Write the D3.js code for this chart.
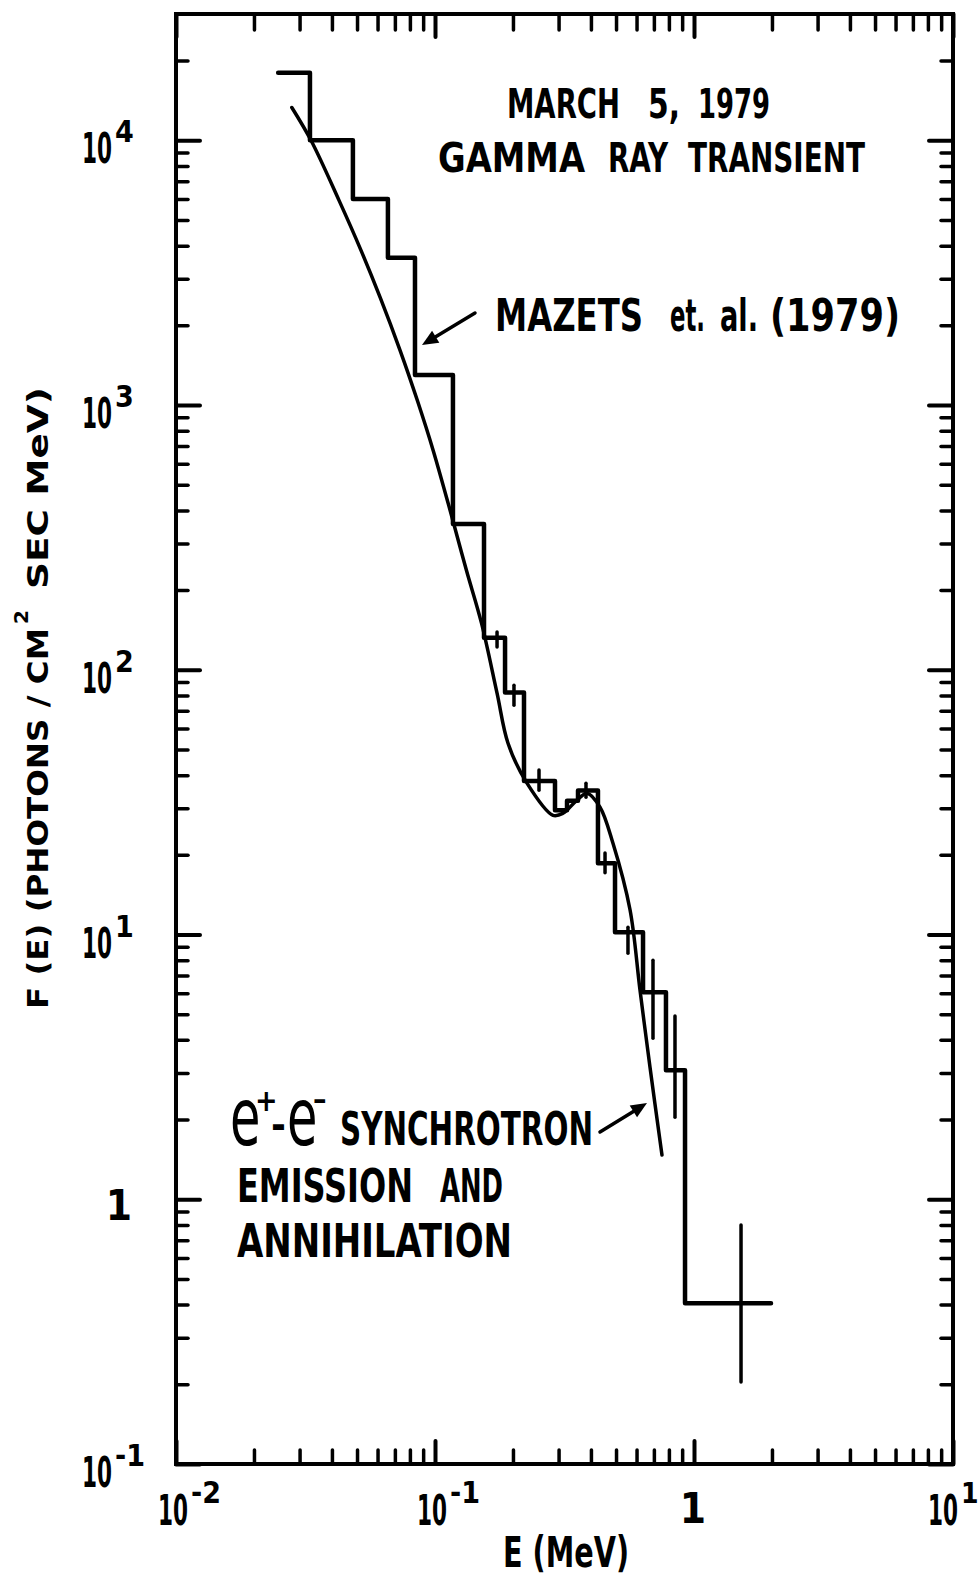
<!DOCTYPE html>
<html><head><meta charset="utf-8">
<script src="https://cdn.jsdelivr.net/npm/d3@7"></script>
<style>
html,body{margin:0;padding:0;background:#fff;}
svg{display:block;}
text{font-family:"Liberation Sans Narrow","DejaVu Sans Condensed","Roboto Condensed","Liberation Sans",sans-serif;font-weight:bold;fill:#000;}
text.wide{font-family:"DejaVu Sans","Liberation Sans",sans-serif;}
text.thin{font-weight:normal;}
</style></head><body>
<svg id="c" width="980" height="1578"></svg>
<script>
// ---- data ----
// Mazets et al. (1979) histogram: bin edges in MeV and flux per bin
const binEdges = [0.0248, 0.0329, 0.0482, 0.0658, 0.0837, 0.1173, 0.1546, 0.1864, 0.2206, 0.2906, 0.3234, 0.3566, 0.4258, 0.4955, 0.6356, 0.7794, 0.9233, 1.983];
const binFlux  = [18000, 10000, 6000, 3600, 1300, 355, 132, 82, 38, 29.5, 32, 35, 18.6, 10.2, 6.05, 3.07, 0.405];
// error bars
const errEnergy = [0.1736, 0.2018, 0.2521, 0.3828, 0.4534, 0.556, 0.6945, 0.8445, 1.519];
const errLow    = [122, 73.5, 35.1, 33.0, 17.1, 8.5, 4.06, 2.04, 0.204];
const errHigh   = [139, 87.5, 41.8, 37.3, 20.3, 10.66, 8.0, 4.92, 0.80];
// e+e- synchrotron emission and annihilation model curve
const modelEnergy = [0.0280, 0.0332, 0.0426, 0.0518, 0.0614, 0.0733, 0.0855, 0.0984, 0.1163, 0.1323, 0.1512, 0.1736, 0.1914, 0.2265, 0.2855, 0.312, 0.3535, 0.3863, 0.4336, 0.4866, 0.5662, 0.6187, 0.6761, 0.7522];
const modelFlux   = [13300, 10000, 5930, 3840, 2550, 1610, 1040, 674, 377, 237, 150, 81.6, 52.8, 37.3, 28.2, 28.7, 32.2, 34.2, 30.3, 22.1, 12.4, 6.17, 3.16, 1.47];
// ticks
const xMajor = [0.01, 0.1, 1, 10];
const xTickBase = ["10", "10", "1", "10"];
const xTickExp  = ["-2", "-1", "", "1"];
const yMajor = [0.1, 1, 10, 100, 1000, 10000];
const yTickBase = ["10", "1", "10", "10", "10", "10"];
const yTickExp  = ["-1", "", "1", "2", "3", "4"];

// ---- layout ----
const L = 176, R = 953, T = 14, B = 1464;
const svg = d3.select("#c");
const x = d3.scaleLog().domain([0.01, 10]).range([L, R]);
const y = d3.scaleLog().domain([0.1, 3e4]).range([B, T]);

function minorOf(domain) {
  const out = [];
  for (let p = Math.floor(Math.log10(domain[0])); p < Math.ceil(Math.log10(domain[1])); p++) {
    for (let m = 2; m <= 9; m++) {
      const v = m * Math.pow(10, p);
      if (v > domain[0] && v < domain[1] * 0.97) out.push(v);
    }
  }
  return out;
}
const xMinor = minorOf(x.domain());
const yMinor = minorOf(y.domain());

function axis(gen, scale, tr, vals, len, sw) {
  const g = svg.append("g").attr("transform", tr)
    .call(gen(scale).tickValues(vals).tickSize(-len).tickFormat(""));
  g.select(".domain").remove();
  g.selectAll("line").attr("stroke", "#000").attr("stroke-width", sw).attr("stroke-linecap", "round");
}
axis(d3.axisBottom, x, `translate(0,${B})`, xMinor, 14, 3.5);
axis(d3.axisBottom, x, `translate(0,${B})`, xMajor, 23, 4);
axis(d3.axisTop, x, `translate(0,${T})`, xMinor, 16, 3.5);
axis(d3.axisTop, x, `translate(0,${T})`, xMajor, 23, 4);
axis(d3.axisLeft, y, `translate(${L},0)`, yMinor, 12, 3.5);
axis(d3.axisLeft, y, `translate(${L},0)`, yMajor, 24, 4);
axis(d3.axisRight, y, `translate(${R},0)`, yMinor, 12, 3.5);
axis(d3.axisRight, y, `translate(${R},0)`, yMajor, 24, 4);

svg.append("rect").attr("x", L).attr("y", T).attr("width", R - L).attr("height", B - T)
  .attr("fill", "none").attr("stroke", "#000").attr("stroke-width", 4);

// tick labels: "10" followed by a superscript exponent
function powLabel(bx, by, base, exp, expDy, expSize) {
  svg.append("text").attr("x", bx).attr("y", by).attr("font-size", 42)
    .attr("textLength", 30).attr("lengthAdjust", "spacingAndGlyphs").text(base);
  svg.append("text").attr("x", bx + 33).attr("y", by - expDy).attr("font-size", expSize).text(exp);
}
xMajor.forEach((v, i) => {
  const tx = x(v);
  if (xTickExp[i] === "") {
    svg.append("text").attr("x", tx - 1).attr("y", 1523).attr("text-anchor", "middle")
      .attr("font-size", 42).text(xTickBase[i]);
  } else {
    const last = i === xMajor.length - 1;
    powLabel(last ? tx - 25 : tx - 18, 1525, xTickBase[i], xTickExp[i], 22, last ? 28 : 30);
  }
});
yMajor.forEach((v, i) => {
  const ty = y(v);
  if (yTickExp[i] === "") {
    svg.append("text").attr("x", 119).attr("y", ty + 21).attr("text-anchor", "middle")
      .attr("font-size", 42).text(yTickBase[i]);
  } else {
    powLabel(82, ty + 23, yTickBase[i], yTickExp[i], 21, 30);
  }
});

// ---- histogram ----
const stepPts = binFlux.map((f, i) => [binEdges[i], f]);
stepPts.push([binEdges[binEdges.length - 1], binFlux[binFlux.length - 1]]);
svg.append("path").datum(stepPts)
  .attr("d", d3.line().x(d => x(d[0])).y(d => y(d[1])).curve(d3.curveStepAfter))
  .attr("fill", "none").attr("stroke", "#000").attr("stroke-width", 4.5)
  .attr("stroke-linejoin", "round").attr("stroke-linecap", "round");

// error bars
svg.append("g").selectAll("line").data(errEnergy).join("line")
  .attr("x1", d => x(d)).attr("x2", d => x(d))
  .attr("y1", (d, i) => y(errLow[i])).attr("y2", (d, i) => y(errHigh[i]))
  .attr("stroke", "#000").attr("stroke-width", 3.5).attr("stroke-linecap", "round");

// ---- model curve ----
const modelPts = modelEnergy.map((e, i) => [e, modelFlux[i]]);
svg.append("path").datum(modelPts)
  .attr("d", d3.line().x(d => x(d[0])).y(d => y(d[1])).curve(d3.curveCatmullRom.alpha(0.5)))
  .attr("fill", "none").attr("stroke", "#000").attr("stroke-width", 3.5).attr("stroke-linecap", "round");

// ---- annotations ----
function word(t, x0, x1, base, size) {
  return svg.append("text").attr("x", x0).attr("y", base).attr("font-size", size)
    .attr("textLength", x1 - x0).attr("lengthAdjust", "spacingAndGlyphs").text(t);
}
word("MARCH", 507, 620, 118, 40);
word("5,", 648, 680, 118, 40);
word("1979", 698, 770, 118, 40);
word("GAMMA", 438, 585, 172, 40);
word("RAY", 608, 668, 172, 40);
word("TRANSIENT", 688, 865, 172, 40);

word("MAZETS", 495, 643, 331, 45);
word("et.", 670, 705, 331, 45);
word("al.", 720, 758, 331, 45);
word("(1979)", 770, 900, 331, 45);

// e+ - e-  (tall lowercase e drawn with a vertical stretch)
[230, 287].forEach(ex => {
  svg.append("text").attr("class", "thin").attr("transform", `translate(${ex},1145) scale(1,1.45)`)
    .attr("font-size", 55).text("e");
});
svg.append("text").attr("x", 255).attr("y", 1111).attr("font-size", 30).text("+");
svg.append("text").attr("x", 271).attr("y", 1139).attr("font-size", 40).text("-");
svg.append("text").attr("x", 313).attr("y", 1109).attr("font-size", 30).text("–");
word("SYNCHROTRON", 340, 593, 1145, 46);
word("EMISSION", 237, 413, 1202, 46);
word("AND", 440, 503, 1202, 46);
word("ANNIHILATION", 237, 512, 1257, 46);

word("E (MeV)", 503, 629, 1567, 42);

// y axis title (rotated)
const yt = svg.append("text").attr("class", "wide").attr("transform", "translate(48,1009) rotate(-90)").attr("font-size", 28);
yt.append("tspan").attr("x", 0).attr("y", 0)
  .attr("textLength", 381).attr("lengthAdjust", "spacingAndGlyphs").text("F (E) (PHOTONS / CM");
yt.append("tspan").attr("x", 385).attr("y", -20).attr("font-size", 20).text("2");
yt.append("tspan").attr("x", 420).attr("y", 0)
  .attr("textLength", 202).attr("lengthAdjust", "spacingAndGlyphs").text("SEC MeV)");

// arrows
function arrow(x0, y0, x1, y1) {
  const a = Math.atan2(y1 - y0, x1 - x0), len = 16, w = 7;
  const bx = x1 - len * Math.cos(a), by = y1 - len * Math.sin(a);
  svg.append("line").attr("x1", x0).attr("y1", y0).attr("x2", bx).attr("y2", by)
    .attr("stroke", "#000").attr("stroke-width", 3.5).attr("stroke-linecap", "round");
  const p = [[x1, y1], [bx + w * Math.sin(a), by - w * Math.cos(a)], [bx - w * Math.sin(a), by + w * Math.cos(a)]];
  svg.append("path").attr("d", "M" + p.map(q => q.join(",")).join("L") + "Z").attr("fill", "#000");
}
arrow(475, 313, 422, 345);
arrow(600, 1132, 647, 1103);
</script>
</body></html>
